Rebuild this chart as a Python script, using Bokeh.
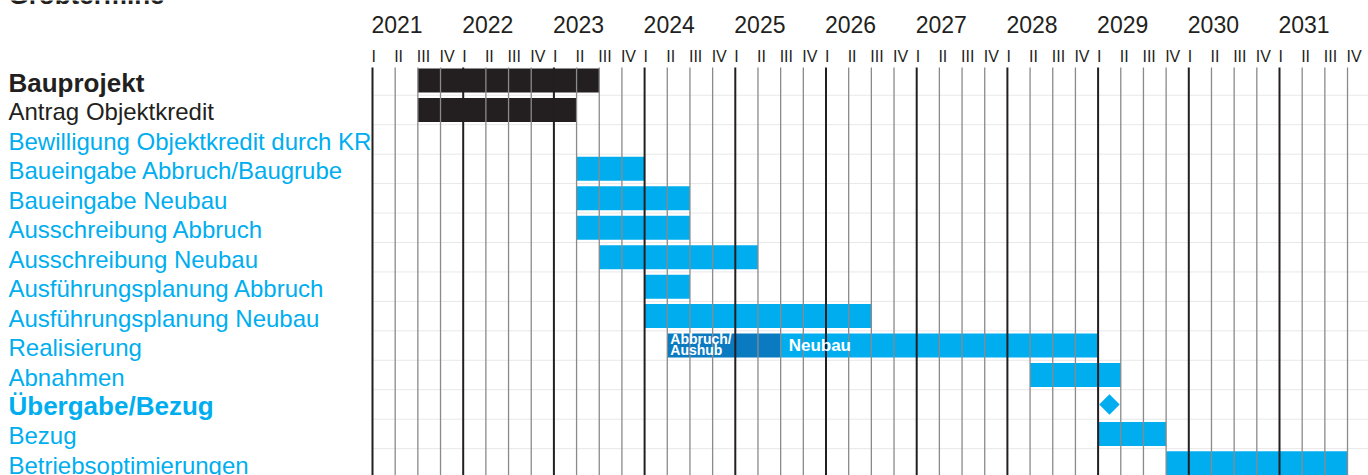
from bokeh.plotting import figure
from bokeh.models import Range1d, ColumnDataSource
from bokeh.core.properties import value
from bokeh.embed import file_html
from bokeh.resources import INLINE

# ---------------- data ----------------
title_text = "Grobtermine"
tasks = [
    "Bauprojekt",
    "Antrag Objektkredit",
    "Bewilligung Objektkredit durch KR",
    "Baueingabe Abbruch/Baugrube",
    "Baueingabe Neubau",
    "Ausschreibung Abbruch",
    "Ausschreibung Neubau",
    "Ausführungsplanung Abbruch",
    "Ausführungsplanung Neubau",
    "Realisierung",
    "Abnahmen",
    "Übergabe/Bezug",
    "Bezug",
    "Betriebsoptimierungen",
]
task_group = ["black", "black"] + ["blue"] * 12
task_bold = ["Bauprojekt", "Übergabe/Bezug"]

years = list(range(2021, 2032))
quarter_labels = ["I", "II", "III", "IV"]

# bars (start / end as fractional years, quarter boundaries)
bar_task = [
    "Bauprojekt", "Antrag Objektkredit", "Baueingabe Abbruch/Baugrube",
    "Baueingabe Neubau", "Ausschreibung Abbruch", "Ausschreibung Neubau",
    "Ausführungsplanung Abbruch", "Ausführungsplanung Neubau",
    "Realisierung", "Realisierung", "Abnahmen", "Bezug",
    "Betriebsoptimierungen",
]
bar_start = [2021.5, 2021.5, 2023.25, 2023.25, 2023.25, 2023.5, 2024.0,
             2024.0, 2024.25, 2025.5, 2028.25, 2029.0, 2029.75]
bar_end = [2023.5, 2023.25, 2024.0, 2024.5, 2024.5, 2025.25, 2024.5,
           2026.5, 2025.5, 2029.0, 2029.25, 2029.75, 2031.75]
bar_kind = ["black", "black", "blue", "blue", "blue", "blue", "blue",
            "blue", "dark", "blue", "blue", "blue", "blue"]
bar_label = ["", "", "", "", "", "", "", "", "Abbruch/\nAushub", "Neubau",
             "", "", ""]

milestone_task = ["Übergabe/Bezug"]
milestone_time = [2029.125]

# ---------------- styling / layout ----------------
COL = {"black": "#231f20", "blue": "#00aeef", "dark": "#0a7bc1"}
W, H = 1368, 475
YEAR_PX = 90.7
ROW_PX = 29.45
first_year_px = 372.0   # x of 2021 start
row0_px = 80.0          # y of first row center

x_start = years[0] - first_year_px / YEAR_PX
x_end = x_start + W / YEAR_PX
y_top = -row0_px / ROW_PX
y_bot = y_top + H / ROW_PX


def ypx(py):
    return y_top + py / ROW_PX


row_of = {t: i for i, t in enumerate(tasks)}

p = figure(width=W, height=H, x_range=Range1d(x_start, x_end),
           y_range=Range1d(y_bot, y_top), output_backend="svg",
           toolbar_location=None, min_border=0)
p.axis.visible = False
p.grid.visible = False
p.outline_line_color = None
p.background_fill_color = "white"
p.border_fill_color = "white"

# faint row separators
sep_y = [i + 0.5 for i in range(len(tasks))]
p.segment(x0=[years[0]] * len(sep_y), x1=[x_end] * len(sep_y), y0=sep_y,
          y1=sep_y, line_color="#e8e8e8", line_width=1)

# bars
bsrc = ColumnDataSource(dict(
    y=[row_of[t] for t in bar_task], left=bar_start, right=bar_end,
    color=[COL[k] for k in bar_kind]))
p.hbar(y="y", left="left", right="right", height=24 / ROW_PX,
       fill_color="color", line_color=None, source=bsrc)

# vertical grid lines
line_top = ypx(67)
qx, yx = [], []
for yr in years:
    for q in range(4):
        (yx if q == 0 else qx).append(yr + q / 4)
p.segment(x0=qx, x1=qx, y0=[line_top] * len(qx), y1=[y_bot] * len(qx),
          line_color="#8a8a8a", line_width=1.3)
p.segment(x0=yx, x1=yx, y0=[line_top] * len(yx), y1=[y_bot] * len(yx),
          line_color="#231f20", line_width=2)

# milestone diamond
p.scatter(x=milestone_time, y=[row_of[t] for t in milestone_task],
          marker="square", size=14.5, angle=0.785398, fill_color=COL["blue"],
          line_color=None)

# bar labels
for t, s, lab, k in zip(bar_task, bar_start, bar_label, bar_kind):
    if not lab:
        continue
    small = "\n" in lab
    p.text(x=[s], y=[row_of[t]], text=[lab], text_color="white",
           text_font=value("Liberation Sans"), text_font_style="bold",
           text_font_size="14px" if small else "17px",
           text_baseline="middle", text_align="left",
           text_line_height=0.7, x_offset=3 if small else 8,
           y_offset=-1 if small else 0)

# task labels
for i, t in enumerate(tasks):
    bold = t in task_bold
    p.text(x=[x_start], y=[i], text=[t], text_color=COL[task_group[i]],
           text_font=value("Liberation Sans"),
           text_font_style="bold" if bold else "normal",
           text_font_size="26px" if bold else "24px",
           text_baseline="middle", text_align="left",
           x_offset=8, y_offset=2)

# year labels
p.text(x=years, y=[ypx(23.5)] * len(years), text=[str(y) for y in years],
       text_color="#231f20", text_font=value("Liberation Sans"),
       text_font_size="23px", text_baseline="middle", text_align="left",
       x_offset=-1)

# quarter labels
qlx = [yr + q / 4 for yr in years for q in range(4)]
qlt = [quarter_labels[q] for yr in years for q in range(4)]
p.text(x=qlx, y=[ypx(56)] * len(qlx), text=qlt, text_color="#231f20",
       text_font=value("Liberation Sans"), text_font_size="16px",
       text_baseline="middle", text_align="left", x_offset=-1)

# (cut-off) title
p.text(x=[x_start], y=[ypx(-6)], text=[title_text], text_color="#231f20",
       text_font=value("Liberation Sans"), text_font_style="bold",
       text_font_size="26px", text_baseline="middle", text_align="left",
       x_offset=8)

open("out.html", "w").write(file_html(p, INLINE))
